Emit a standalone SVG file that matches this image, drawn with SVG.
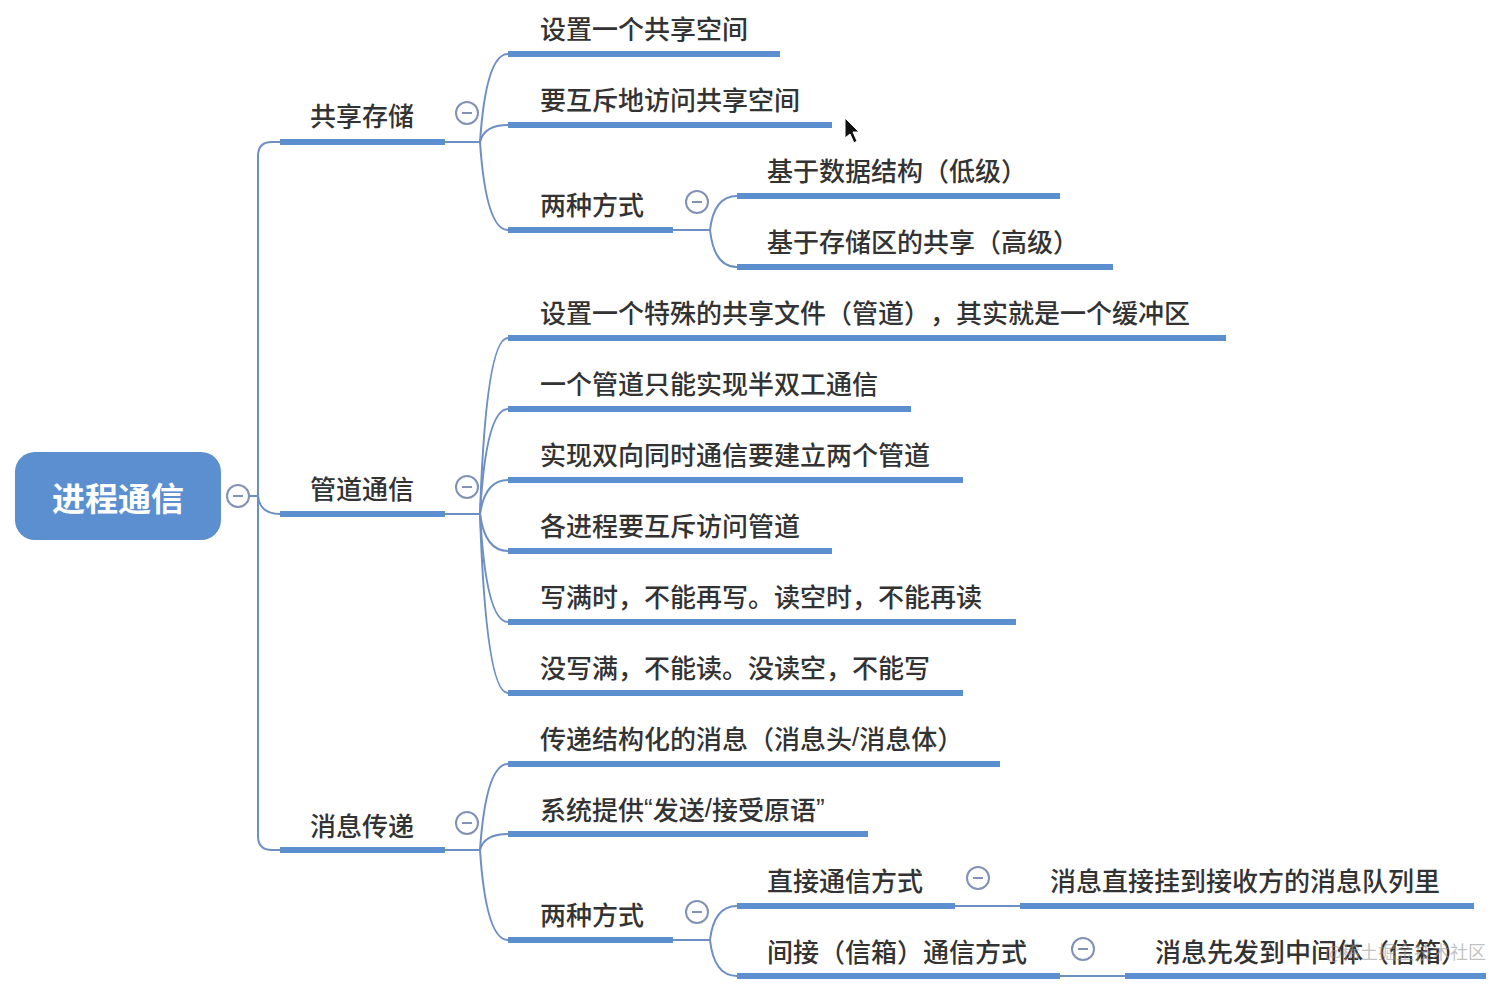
<svg xmlns="http://www.w3.org/2000/svg" width="1512" height="988" viewBox="0 0 1512 988">
<style>
.t{font-family:"Noto Sans CJK SC","Noto Sans",sans-serif;font-size:26px;fill:#333;dominant-baseline:central;font-weight:500;text-spacing-trim:space-all}
.lat{font-family:"Liberation Sans","Noto Sans",sans-serif}
.root{font-family:"Noto Sans CJK SC","Noto Sans",sans-serif;font-size:33px;fill:#fff;font-weight:700;dominant-baseline:central;text-anchor:middle}
.u{stroke:#5b8fd0;stroke-width:6;stroke-linecap:butt}
.c{fill:none;stroke:#6d8fc4;stroke-width:2}
.btn{fill:#fff;stroke:#8192b6;stroke-width:2}
.dash{stroke:#8192b6;stroke-width:2}
.wm{font-family:"Noto Sans CJK SC","Noto Sans",sans-serif;font-size:18px;fill:#999;fill-opacity:0.6;dominant-baseline:central}
</style>
<defs>
<g id="btn"><circle r="11" class="btn"/><line x1="-5" y1="0" x2="5" y2="0" class="dash"/></g>
</defs>
<rect width="1512" height="988" fill="#fff"/>

<g id="connectors">
<path class="c" d="M249,496 L258,496"/>
<path class="c" d="M258,496 L258,156 Q258,142 272,142 L280,142"/>
<path class="c" d="M258,496 L258,836 Q258,850 272,850 L280,850"/>
<path class="c" d="M258,496 Q260,514 280,514"/>
<path class="c" d="M445,142 L480,142"/>
<path class="c" d="M480,142 Q486,54 508,54"/>
<path class="c" d="M480,142 Q484,125 508,125"/>
<path class="c" d="M480,142 Q486,230 508,230"/>
<path class="c" d="M673,230 L710,230"/>
<path class="c" d="M710,230 Q714,196 737,196"/>
<path class="c" d="M710,230 Q714,267 737,267"/>
<path class="c" d="M445,514 L480,514"/>
<path class="c" d="M480,514 Q486,338 508,338"/>
<path class="c" d="M480,514 Q486,409 508,409"/>
<path class="c" d="M480,514 Q485,480 508,480"/>
<path class="c" d="M480,514 Q485,551 508,551"/>
<path class="c" d="M480,514 Q486,622 508,622"/>
<path class="c" d="M480,514 Q486,693 508,693"/>
<path class="c" d="M445,850 L480,850"/>
<path class="c" d="M480,850 Q486,764 508,764"/>
<path class="c" d="M480,850 Q484,834 508,834"/>
<path class="c" d="M480,850 Q486,940 508,940"/>
<path class="c" d="M673,940 L710,940"/>
<path class="c" d="M710,940 Q714,906 737,906"/>
<path class="c" d="M710,940 Q714,976 737,976"/>
<path class="c" d="M955,906 L1020,906"/>
<path class="c" d="M1060,976 L1125,976"/>
</g>

<g id="root">
<rect x="15" y="452" width="206" height="88" rx="20" fill="#5b8fd0"/>
<text class="root" x="118" y="497">进程通信</text>
<use href="#btn" x="238" y="496"/>
</g>

<g id="n-gxcc"><text class="t" x="310" y="114">共享存储</text><line class="u" x1="280" y1="142" x2="445" y2="142"/><use href="#btn" x="467" y="113"/></g>
<g id="n-gxcc-1"><text class="t" x="540" y="27">设置一个共享空间</text><line class="u" x1="508" y1="54" x2="780" y2="54"/></g>
<g id="n-gxcc-2"><text class="t" x="540" y="98">要互斥地访问共享空间</text><line class="u" x1="508" y1="125" x2="832" y2="125"/></g>
<g id="n-gxcc-3"><text class="t" x="540" y="203">两种方式</text><line class="u" x1="508" y1="230" x2="673" y2="230"/><use href="#btn" x="697" y="202"/></g>
<g id="n-gxcc-3a"><text class="t" x="767" y="169">基于数据结构（低级）</text><line class="u" x1="737" y1="196" x2="1060" y2="196"/></g>
<g id="n-gxcc-3b"><text class="t" x="767" y="240">基于存储区的共享（高级）</text><line class="u" x1="737" y1="267" x2="1113" y2="267"/></g>

<g id="n-gdtx"><text class="t" x="310" y="487">管道通信</text><line class="u" x1="280" y1="514" x2="445" y2="514"/><use href="#btn" x="467" y="487"/></g>
<g id="n-gdtx-1"><text class="t" x="540" y="311">设置一个特殊的共享文件（管道），其实就是一个缓冲区</text><line class="u" x1="508" y1="338" x2="1226" y2="338"/></g>
<g id="n-gdtx-2"><text class="t" x="540" y="382">一个管道只能实现半双工通信</text><line class="u" x1="508" y1="409" x2="911" y2="409"/></g>
<g id="n-gdtx-3"><text class="t" x="540" y="453">实现双向同时通信要建立两个管道</text><line class="u" x1="508" y1="480" x2="963" y2="480"/></g>
<g id="n-gdtx-4"><text class="t" x="540" y="524">各进程要互斥访问管道</text><line class="u" x1="508" y1="551" x2="832" y2="551"/></g>
<g id="n-gdtx-5"><text class="t" x="540" y="595">写满时，不能再写。读空时，不能再读</text><line class="u" x1="508" y1="622" x2="1016" y2="622"/></g>
<g id="n-gdtx-6"><text class="t" x="540" y="666">没写满，不能读。没读空，不能写</text><line class="u" x1="508" y1="693" x2="963" y2="693"/></g>

<g id="n-xxcd"><text class="t" x="310" y="824">消息传递</text><line class="u" x1="280" y1="850" x2="445" y2="850"/><use href="#btn" x="467" y="823"/></g>
<g id="n-xxcd-1"><text class="t" x="540" y="737">传递结构化的消息（消息头<tspan class="lat">/</tspan>消息体）</text><line class="u" x1="508" y1="764" x2="1000" y2="764"/></g>
<g id="n-xxcd-2"><text class="t" x="540" y="808">系统提供<tspan class="lat">“</tspan>发送<tspan class="lat">/</tspan>接受原语<tspan class="lat">”</tspan></text><line class="u" x1="508" y1="834" x2="868" y2="834"/></g>
<g id="n-xxcd-3"><text class="t" x="540" y="913">两种方式</text><line class="u" x1="508" y1="940" x2="673" y2="940"/><use href="#btn" x="697" y="912"/></g>
<g id="n-xxcd-3a"><text class="t" x="767" y="879">直接通信方式</text><line class="u" x1="737" y1="906" x2="955" y2="906"/><use href="#btn" x="978" y="878"/></g>
<g id="n-xxcd-3a1"><text class="t" x="1050" y="879">消息直接挂到接收方的消息队列里</text><line class="u" x1="1020" y1="906" x2="1474" y2="906"/></g>
<g id="n-xxcd-3b"><text class="t" x="767" y="950">间接（信箱）通信方式</text><line class="u" x1="737" y1="976" x2="1060" y2="976"/><use href="#btn" x="1083" y="949"/></g>
<g id="n-xxcd-3b1"><text class="t" x="1155" y="950">消息先发到中间体（信箱）</text><line class="u" x1="1125" y1="976" x2="1486" y2="976"/></g>

<g id="cursor"><polygon points="845,118 845,138 850,134 854,143 857,141 853,132 859,132" fill="#111" stroke="#fff" stroke-width="1"/></g>
<text class="wm" x="1325" y="951">@稀土掘金技术社区</text>
</svg>
